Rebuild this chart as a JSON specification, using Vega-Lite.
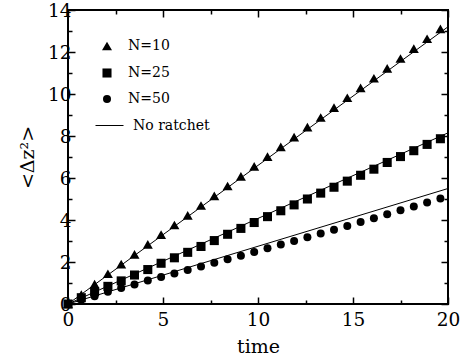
{
  "$schema": "https://vega.github.io/schema/vega-lite/v6.json",
  "width": 380,
  "height": 294,
  "autosize": "none",
  "padding": {"left": 68, "top": 10, "right": 21, "bottom": 60},
  "background": "white",
  "config": {
    "font": "DejaVu Serif",
    "view": {"stroke": "black", "strokeWidth": 2},
    "axis": {
      "domain": false,
      "grid": false,
      "tickColor": "black",
      "tickWidth": 1.5,
      "labelColor": "black",
      "labelFont": "DejaVu Serif",
      "labelFontSize": 18.5,
      "labelFlush": false,
      "labelOverlap": false,
      "labelBound": false,
      "titleColor": "black",
      "titleFont": "DejaVu Serif",
      "titleFontSize": 19,
      "titleFontWeight": "normal"
    },
    "legend": {
      "labelFont": "DejaVu Serif",
      "labelFontSize": 14,
      "labelColor": "black",
      "title": null,
      "padding": 0,
      "orient": "none"
    }
  },
  "datasets": {
    "lines": [
      {"series": "N=10", "t": 0, "v": 0},
      {"series": "N=10", "t": 20, "v": 13.2},
      {"series": "N=25", "t": 0, "v": 0},
      {"series": "N=25", "t": 20, "v": 8.15},
      {"series": "N=50", "t": 0, "v": 0},
      {"series": "N=50", "t": 20, "v": 5.5}
    ],
    "points": [
      {"series": "N=10", "t": 0, "v": 0},
      {"series": "N=10", "t": 0.7, "v": 0.45},
      {"series": "N=10", "t": 1.4, "v": 0.95},
      {"series": "N=10", "t": 2.1, "v": 1.44},
      {"series": "N=10", "t": 2.8, "v": 1.9},
      {"series": "N=10", "t": 3.5, "v": 2.36},
      {"series": "N=10", "t": 4.2, "v": 2.84},
      {"series": "N=10", "t": 4.9, "v": 3.3},
      {"series": "N=10", "t": 5.6, "v": 3.76},
      {"series": "N=10", "t": 6.3, "v": 4.22},
      {"series": "N=10", "t": 7.0, "v": 4.69},
      {"series": "N=10", "t": 7.7, "v": 5.15},
      {"series": "N=10", "t": 8.4, "v": 5.62},
      {"series": "N=10", "t": 9.1, "v": 6.08},
      {"series": "N=10", "t": 9.8, "v": 6.55},
      {"series": "N=10", "t": 10.5, "v": 7.02},
      {"series": "N=10", "t": 11.2, "v": 7.48},
      {"series": "N=10", "t": 11.9, "v": 7.95},
      {"series": "N=10", "t": 12.6, "v": 8.42},
      {"series": "N=10", "t": 13.3, "v": 8.88},
      {"series": "N=10", "t": 14.0, "v": 9.35},
      {"series": "N=10", "t": 14.7, "v": 9.82},
      {"series": "N=10", "t": 15.4, "v": 10.29},
      {"series": "N=10", "t": 16.1, "v": 10.75},
      {"series": "N=10", "t": 16.8, "v": 11.22},
      {"series": "N=10", "t": 17.5, "v": 11.69},
      {"series": "N=10", "t": 18.2, "v": 12.16},
      {"series": "N=10", "t": 18.9, "v": 12.63},
      {"series": "N=10", "t": 19.6, "v": 13.1},
      {"series": "N=25", "t": 0, "v": 0},
      {"series": "N=25", "t": 0.7, "v": 0.3},
      {"series": "N=25", "t": 1.4, "v": 0.59},
      {"series": "N=25", "t": 2.1, "v": 0.84},
      {"series": "N=25", "t": 2.8, "v": 1.1},
      {"series": "N=25", "t": 3.5, "v": 1.38},
      {"series": "N=25", "t": 4.2, "v": 1.64},
      {"series": "N=25", "t": 4.9, "v": 1.94},
      {"series": "N=25", "t": 5.6, "v": 2.2},
      {"series": "N=25", "t": 6.3, "v": 2.46},
      {"series": "N=25", "t": 7.0, "v": 2.74},
      {"series": "N=25", "t": 7.7, "v": 3.02},
      {"series": "N=25", "t": 8.4, "v": 3.32},
      {"series": "N=25", "t": 9.1, "v": 3.6},
      {"series": "N=25", "t": 9.8, "v": 3.88},
      {"series": "N=25", "t": 10.5, "v": 4.16},
      {"series": "N=25", "t": 11.2, "v": 4.44},
      {"series": "N=25", "t": 11.9, "v": 4.72},
      {"series": "N=25", "t": 12.6, "v": 5.0},
      {"series": "N=25", "t": 13.3, "v": 5.28},
      {"series": "N=25", "t": 14.0, "v": 5.56},
      {"series": "N=25", "t": 14.7, "v": 5.85},
      {"series": "N=25", "t": 15.4, "v": 6.13},
      {"series": "N=25", "t": 16.1, "v": 6.42},
      {"series": "N=25", "t": 16.8, "v": 6.74},
      {"series": "N=25", "t": 17.5, "v": 7.02},
      {"series": "N=25", "t": 18.2, "v": 7.3},
      {"series": "N=25", "t": 18.9, "v": 7.6},
      {"series": "N=25", "t": 19.6, "v": 7.87},
      {"series": "N=50", "t": 0, "v": 0},
      {"series": "N=50", "t": 0.7, "v": 0.2},
      {"series": "N=50", "t": 1.4, "v": 0.37},
      {"series": "N=50", "t": 2.1, "v": 0.58},
      {"series": "N=50", "t": 2.8, "v": 0.76},
      {"series": "N=50", "t": 3.5, "v": 0.93},
      {"series": "N=50", "t": 4.2, "v": 1.12},
      {"series": "N=50", "t": 4.9, "v": 1.28},
      {"series": "N=50", "t": 5.6, "v": 1.45},
      {"series": "N=50", "t": 6.3, "v": 1.62},
      {"series": "N=50", "t": 7.0, "v": 1.79},
      {"series": "N=50", "t": 7.7, "v": 1.96},
      {"series": "N=50", "t": 8.4, "v": 2.13},
      {"series": "N=50", "t": 9.1, "v": 2.3},
      {"series": "N=50", "t": 9.8, "v": 2.48},
      {"series": "N=50", "t": 10.5, "v": 2.65},
      {"series": "N=50", "t": 11.2, "v": 2.83},
      {"series": "N=50", "t": 11.9, "v": 3.0},
      {"series": "N=50", "t": 12.6, "v": 3.18},
      {"series": "N=50", "t": 13.3, "v": 3.36},
      {"series": "N=50", "t": 14.0, "v": 3.54},
      {"series": "N=50", "t": 14.7, "v": 3.72},
      {"series": "N=50", "t": 15.4, "v": 3.9},
      {"series": "N=50", "t": 16.1, "v": 4.08},
      {"series": "N=50", "t": 16.8, "v": 4.27},
      {"series": "N=50", "t": 17.5, "v": 4.46},
      {"series": "N=50", "t": 18.2, "v": 4.64},
      {"series": "N=50", "t": 18.9, "v": 4.83},
      {"series": "N=50", "t": 19.6, "v": 5.02}
    ]
  },
  "layer": [
    {
      "data": {"name": "lines"},
      "mark": {"type": "line", "strokeWidth": 1},
      "encoding": {
        "x": {
          "field": "t", "type": "quantitative",
          "scale": {"domain": [0, 20], "nice": false},
          "axis": {
            "orient": "bottom",
            "values": [0, 2.5, 5, 7.5, 10, 12.5, 15, 17.5, 20],
            "labelExpr": "datum.value % 5 === 0 ? datum.label : ''",
            "tickSize": {"condition": {"test": "datum.value % 5 === 0", "value": -7}, "value": -4},
            "labelPadding": 13,
            "title": "time",
            "titlePadding": 6
          }
        },
        "y": {
          "field": "v", "type": "quantitative",
          "scale": {"domain": [0, 14], "nice": false},
          "axis": {
            "orient": "left",
            "values": [0, 1, 2, 3, 4, 5, 6, 7, 8, 9, 10, 11, 12, 13, 14],
            "labelExpr": "datum.value % 2 === 0 ? datum.label : ''",
            "tickSize": {"condition": {"test": "datum.value % 2 === 0", "value": -7}, "value": -4},
            "labelPadding": 4,
            "title": "<Δz²>",
            "titlePadding": 10
          }
        },
        "detail": {"field": "series"},
        "color": {
          "datum": "No ratchet",
          "type": "nominal",
          "scale": {"domain": ["No ratchet"], "range": ["black"]},
          "legend": {
            "legendX": 27,
            "legendY": 101,
            "symbolType": "stroke",
            "symbolSize": 784,
            "symbolStrokeWidth": 1,
            "labelOffset": 9
          }
        }
      }
    },
    {
      "data": {"name": "points"},
      "mark": {"type": "point", "filled": true, "color": "black", "opacity": 1},
      "encoding": {
        "x": {
          "field": "t", "type": "quantitative",
          "axis": {
            "orient": "top",
            "values": [0, 2.5, 5, 7.5, 10, 12.5, 15, 17.5, 20],
            "labels": false,
            "title": null,
            "tickSize": {"condition": {"test": "datum.value % 5 === 0", "value": -7}, "value": -4}
          }
        },
        "y": {
          "field": "v", "type": "quantitative",
          "axis": {
            "orient": "right",
            "values": [0, 1, 2, 3, 4, 5, 6, 7, 8, 9, 10, 11, 12, 13, 14],
            "labels": false,
            "title": null,
            "tickSize": {"condition": {"test": "datum.value % 2 === 0", "value": -7}, "value": -4}
          }
        },
        "shape": {
          "field": "series", "type": "nominal",
          "scale": {"domain": ["N=10", "N=25", "N=50"], "range": ["triangle-up", "square", "circle"]},
          "legend": {
            "legendX": 32,
            "legendY": 29,
            "labelOffset": 14,
            "rowPadding": 11
          }
        },
        "size": {
          "field": "series", "type": "nominal",
          "scale": {"domain": ["N=10", "N=25", "N=50"], "range": [100, 64, 81]},
          "legend": {
            "legendX": 32,
            "legendY": 29,
            "labelOffset": 14,
            "rowPadding": 11
          }
        }
      }
    }
  ],
  "resolve": {"axis": {"x": "independent", "y": "independent"}}
}
